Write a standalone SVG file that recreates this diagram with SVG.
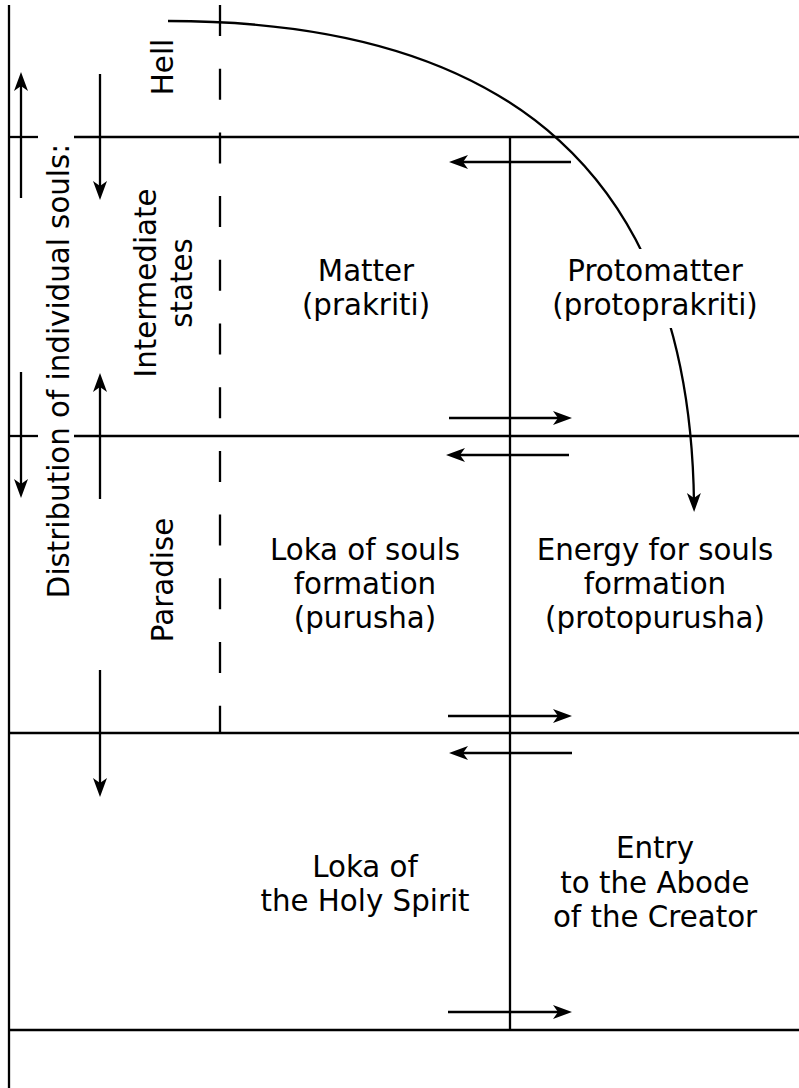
<svg xmlns="http://www.w3.org/2000/svg" width="799" height="1088" viewBox="0 0 799 1088">
<style>
.ln{stroke:#000;stroke-width:2.3;fill:none}
.ar{stroke:#000;stroke-width:2.3;fill:none;marker-end:url(#ah)}
.t{font-family:"DejaVu Sans","Verdana",sans-serif;font-size:29.3px;fill:#000;text-anchor:middle}
</style>
<defs>
<marker id="ah" markerUnits="userSpaceOnUse" markerWidth="30" markerHeight="30" orient="auto" refX="0" refY="0" overflow="visible">
<path d="M9,0 L-10,-7 L-5,0 L-10,7 Z" fill="#000"/>
</marker>
</defs>
<rect width="799" height="1088" fill="#fff"/>
<g id="grid">
<line class="ln" x1="9" y1="5" x2="9" y2="1088"/>
<line class="ln" x1="9" y1="137" x2="38" y2="137"/>
<line class="ln" x1="74" y1="137" x2="799" y2="137"/>
<line class="ln" x1="9" y1="436" x2="38" y2="436"/>
<line class="ln" x1="74" y1="436" x2="799" y2="436"/>
<line class="ln" x1="9" y1="733" x2="799" y2="733"/>
<line class="ln" x1="9" y1="1030" x2="799" y2="1030"/>
<line class="ln" x1="510" y1="137" x2="510" y2="1030"/>
<line class="ln" x1="220" y1="5" x2="220" y2="733" stroke-dasharray="31 32.7"/>
</g>
<g id="connectors">
<path class="ar" d="M168,21 C515,21 690,180 694,503"/>
<line class="ar" x1="571" y1="162" x2="458" y2="162"/>
<line class="ar" x1="449" y1="418" x2="563" y2="418"/>
<line class="ar" x1="569" y1="455" x2="455" y2="455"/>
<line class="ar" x1="448" y1="716" x2="563" y2="716"/>
<line class="ar" x1="572" y1="753" x2="458" y2="753"/>
<line class="ar" x1="448" y1="1012" x2="563" y2="1012"/>
<line class="ar" x1="21" y1="198" x2="21" y2="81"/>
<line class="ar" x1="100" y1="74" x2="100" y2="191"/>
<line class="ar" x1="21" y1="372" x2="21" y2="489"/>
<line class="ar" x1="100" y1="499" x2="100" y2="382"/>
<line class="ar" x1="100" y1="670" x2="100" y2="788"/>
</g>
<g id="distribution"><text class="t" transform="translate(69,371) rotate(-90)">Distribution of individual souls:</text></g>
<g id="hell"><text class="t" transform="translate(173,67) rotate(-90)">Hell</text></g>
<g id="intermediate"><text class="t" transform="translate(156,283) rotate(-90)">Intermediate</text><text class="t" transform="translate(192,283) rotate(-90)">states</text></g>
<g id="paradise"><text class="t" transform="translate(173,580) rotate(-90)">Paradise</text></g>
<g id="matter"><text class="t" x="366" y="281">Matter</text><text class="t" x="366" y="315">(prakriti)</text></g>
<g id="protomatter"><rect x="610" y="249" width="100" height="79" fill="#fff"/><text class="t" x="655" y="281">Protomatter</text><text class="t" x="655" y="315">(protoprakriti)</text></g>
<g id="purusha"><text class="t" x="365" y="560">Loka of souls</text><text class="t" x="365" y="594">formation</text><text class="t" x="365" y="628">(purusha)</text></g>
<g id="protopurusha"><text class="t" x="655" y="560">Energy for souls</text><text class="t" x="655" y="594">formation</text><text class="t" x="655" y="628">(protopurusha)</text></g>
<g id="holyspirit"><text class="t" x="365" y="877">Loka of</text><text class="t" x="365" y="911">the Holy Spirit</text></g>
<g id="abode"><text class="t" x="655" y="858">Entry</text><text class="t" x="655" y="893">to the Abode</text><text class="t" x="655" y="927">of the Creator</text></g>
</svg>
